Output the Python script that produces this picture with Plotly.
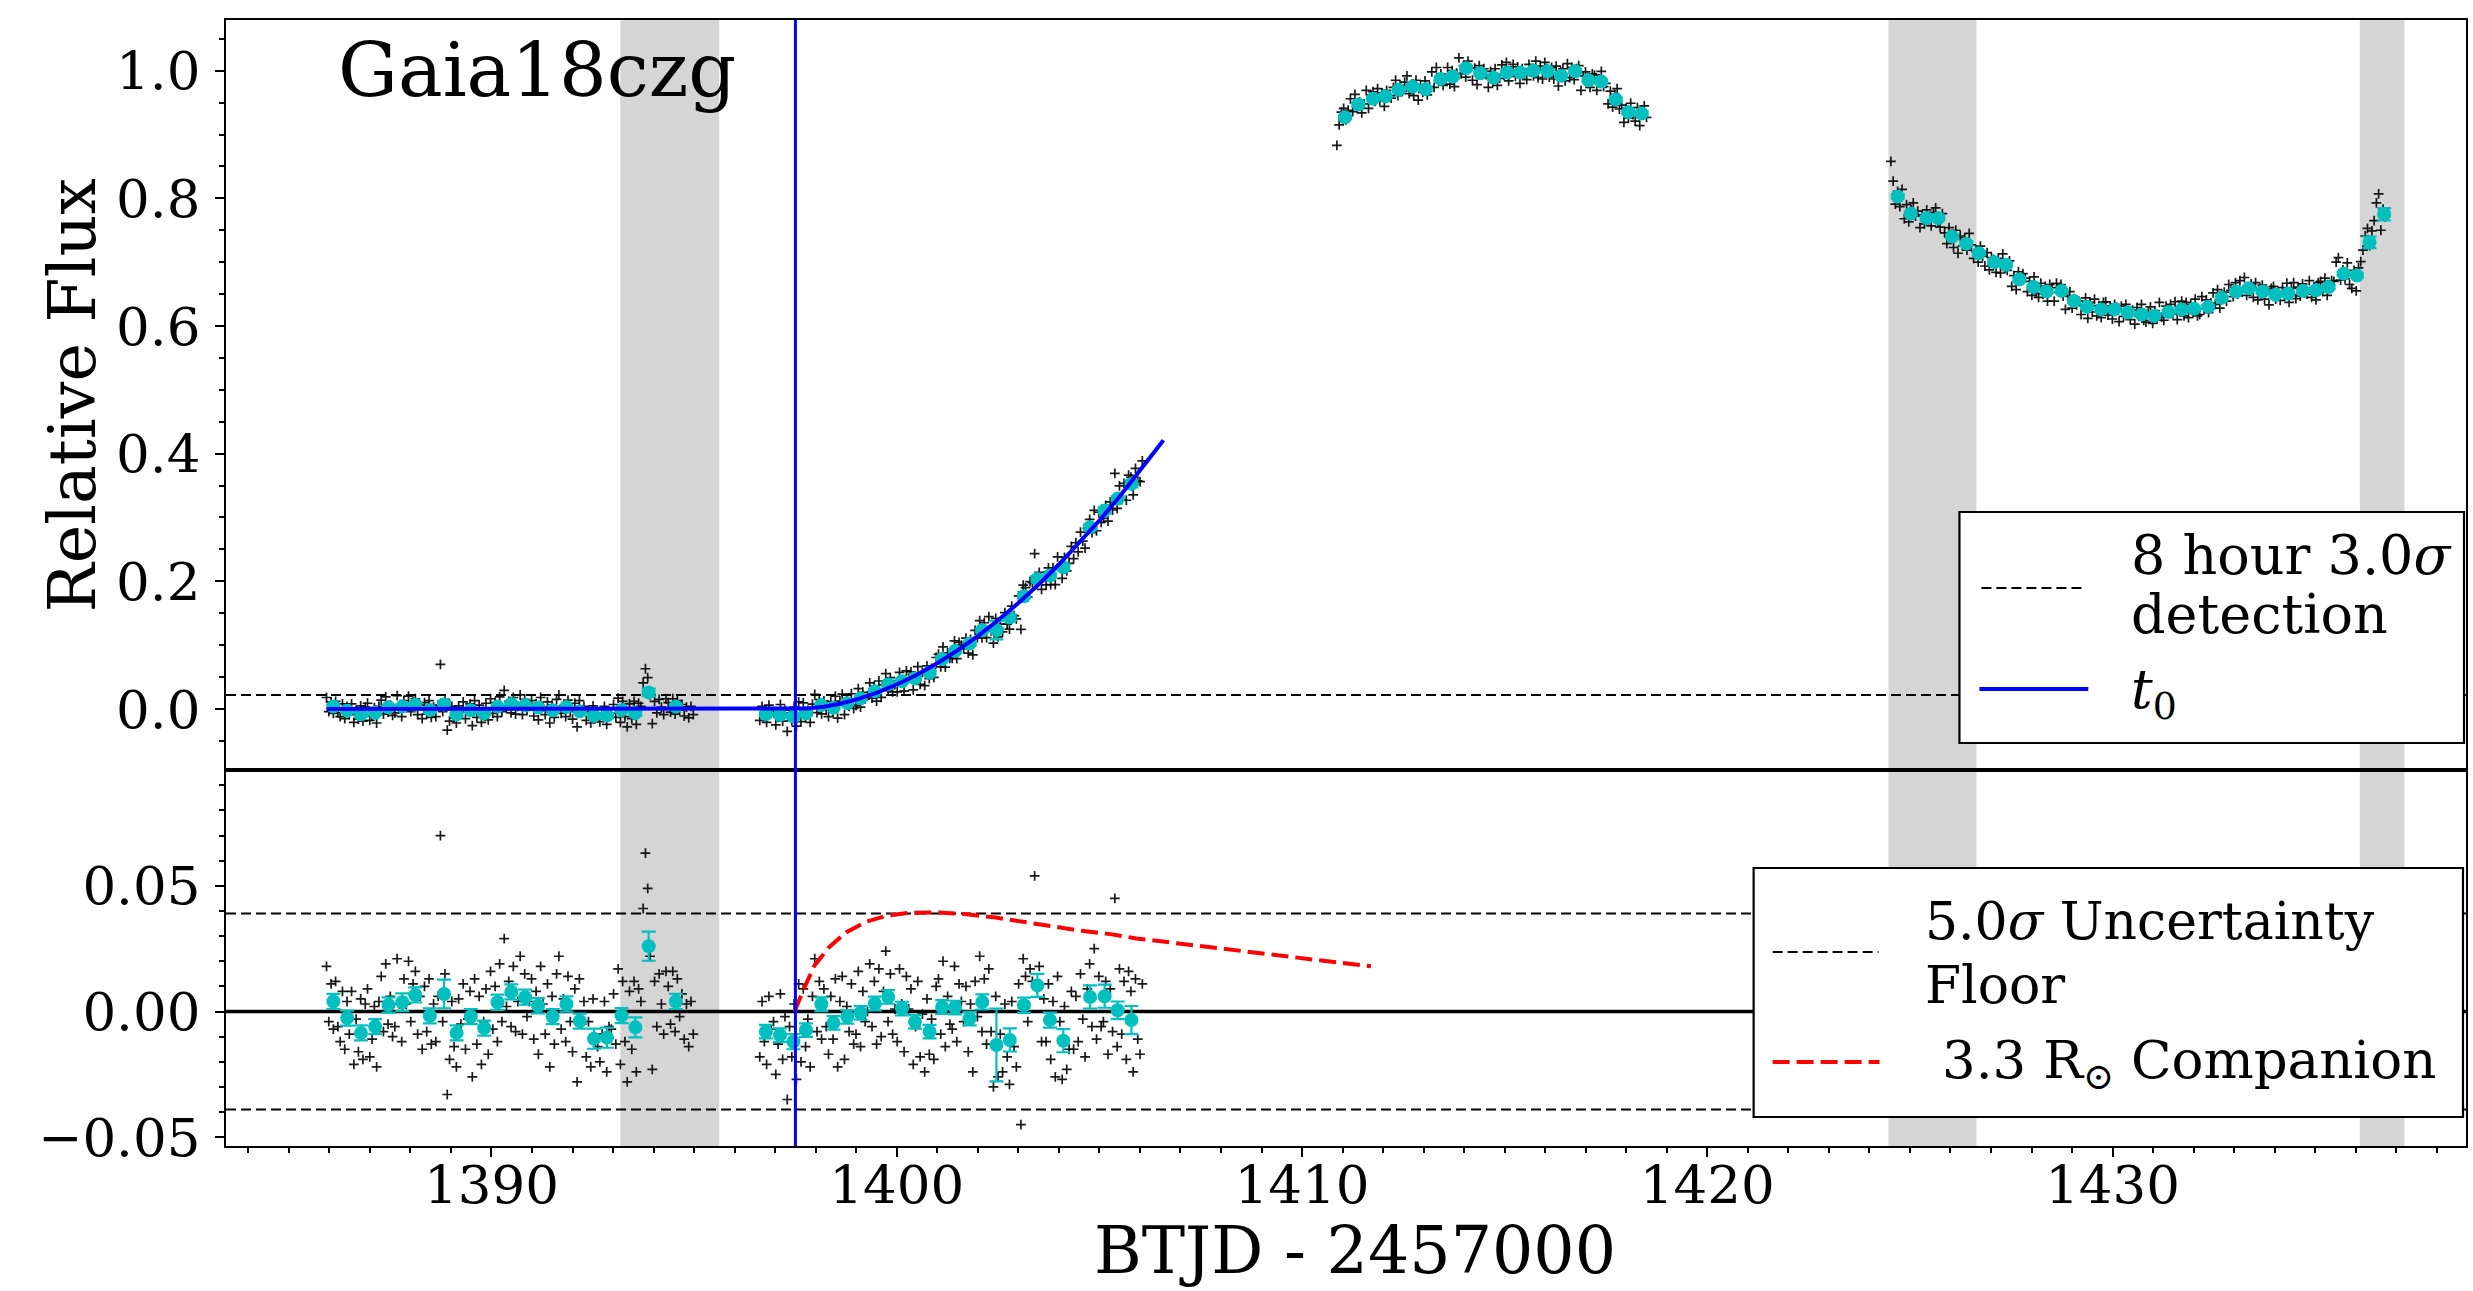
import numpy as np
import plotly.graph_objects as go

# ------------------------------------------------------------------ data
t0 = 1397.5
det_level = 0.022       # 8 hour 3.0 sigma detection
floor_level = 0.039     # 5.0 sigma uncertainty floor
x_range = [1383.45, 1438.72]
gaps = [(1393.18, 1395.62), (1424.47, 1426.64), (1436.10, 1437.20)]

# 8-hour bins, segment 1 (residuals; model is flat at 0 here)
seg1_bin_t = [1386.10, 1386.44, 1386.78, 1387.13, 1387.46, 1387.80, 1388.12, 1388.48, 1388.83,
              1389.14, 1389.49, 1389.82, 1390.15, 1390.49, 1390.83, 1391.15, 1391.51, 1391.85,
              1392.18, 1392.53, 1392.85, 1393.21, 1393.55, 1393.88, 1394.55]
seg1_bin_r = [0.0040, -0.0026, -0.0085, -0.0060, 0.0026, 0.0037, 0.0066, -0.0017, 0.0070,
              -0.0085, -0.0020, -0.0066, 0.0037, 0.0078, 0.0057, 0.0023, -0.0020, 0.0030,
              -0.0038, -0.0108, -0.0104, -0.0016, -0.0063, 0.0260, 0.0040]
seg1_bin_e = [0.0030, 0.0030, 0.0030, 0.0030, 0.0030, 0.0035, 0.0030, 0.0030, 0.0057,
              0.0030, 0.0030, 0.0030, 0.0030, 0.0030, 0.0030, 0.0030, 0.0030, 0.0030,
              0.0030, 0.0040, 0.0040, 0.0030, 0.0040, 0.0058, 0.0030]

# 8-hour bins, segment 2 (residuals from the rise model)
seg2_bin_t = [1396.77, 1397.12, 1397.45, 1397.76, 1398.14, 1398.44, 1398.78, 1399.11, 1399.46,
              1399.79, 1400.13, 1400.45, 1400.81, 1401.12, 1401.44, 1401.80, 1402.11, 1402.46,
              1402.79, 1403.14, 1403.47, 1403.78, 1404.11, 1404.77, 1405.13, 1405.45, 1405.79]
seg2_bin_r = [-0.0080, -0.0094, -0.0120, -0.0074, 0.0029, -0.0045, -0.0021, -0.0005, 0.0032,
              0.0058, 0.0012, -0.0041, -0.0080, 0.0018, 0.0016, -0.0028, 0.0038, -0.0133,
              -0.0113, 0.0025, 0.0104, -0.0034, -0.0116, 0.0058, 0.0061, 0.0005, -0.0034]
seg2_bin_e = [0.0027, 0.0027, 0.0030, 0.0027, 0.0027, 0.0027, 0.0027, 0.0027, 0.0027,
              0.0027, 0.0027, 0.0027, 0.0027, 0.0027, 0.0027, 0.0027, 0.0030, 0.0145,
              0.0046, 0.0030, 0.0046, 0.0030, 0.0046, 0.0046, 0.0046, 0.0035, 0.0056]

# 8-hour bins, segment 3 (relative flux)
seg3_bin_t = [1411.06, 1411.39, 1411.75, 1412.06, 1412.39, 1412.73, 1413.05, 1413.42, 1413.72,
              1414.05, 1414.40, 1414.73, 1415.06, 1415.39, 1415.71, 1416.06, 1416.39, 1416.74,
              1417.07, 1417.38, 1417.74, 1418.05, 1418.38]
seg3_bin_f = [0.927, 0.947, 0.956, 0.960, 0.970, 0.975, 0.971, 0.987, 0.991,
              1.004, 0.996, 0.989, 0.997, 0.997, 1.000, 0.999, 0.992, 0.999,
              0.985, 0.983, 0.955, 0.935, 0.933]
seg3_bin_e = [0.003, 0.003, 0.003, 0.003, 0.003, 0.003, 0.003, 0.003, 0.003,
              0.003, 0.003, 0.003, 0.003, 0.003, 0.003, 0.003, 0.003, 0.003,
              0.003, 0.003, 0.003, 0.003, 0.003]

# 8-hour bins, segment 4 (relative flux)
seg4_bin_t = [1424.70, 1425.02, 1425.41, 1425.70, 1426.04, 1426.39, 1426.70, 1427.08, 1427.37,
              1427.70, 1428.05, 1428.37, 1428.74, 1429.05, 1429.37, 1429.72, 1430.05, 1430.38,
              1430.72, 1431.03, 1431.38, 1431.71, 1432.01, 1432.36, 1432.69, 1433.05, 1433.36,
              1433.70, 1434.02, 1434.33, 1434.70, 1435.02, 1435.33, 1435.70, 1436.03, 1436.34,
              1436.70]
seg4_bin_f = [0.803, 0.776, 0.769, 0.769, 0.740, 0.729, 0.714, 0.700, 0.696,
              0.673, 0.661, 0.654, 0.655, 0.639, 0.630, 0.626, 0.626, 0.621,
              0.618, 0.616, 0.622, 0.626, 0.627, 0.630, 0.644, 0.654, 0.659,
              0.654, 0.649, 0.651, 0.655, 0.656, 0.661, 0.682, 0.679, 0.731,
              0.775]
seg4_bin_e = [0.003, 0.003, 0.003, 0.003, 0.003, 0.003, 0.003, 0.003, 0.003,
              0.003, 0.003, 0.003, 0.003, 0.003, 0.003, 0.003, 0.003, 0.003,
              0.003, 0.003, 0.003, 0.003, 0.003, 0.003, 0.003, 0.003, 0.003,
              0.003, 0.003, 0.003, 0.003, 0.003, 0.003, 0.003, 0.003, 0.009,
              0.0097]

# unbinned cadences: segment time spans and values (6 per 8-hour bin)
seg1_span = (1385.93, 1394.98)
seg1_resid = [
    0.018, -0.004, 0.011, -0.007, 0.012, -0.006,
    -0.012, 0.008, -0.015, 0.004, -0.009, 0.008,
    -0.021, -0.003, -0.016, 0.005, -0.019, 0.003,
    0.009, -0.018, -0.011, 0.002, -0.022, 0.004,
    0.014, -0.008, 0.019, -0.005, 0.006, -0.010,
    -0.006, 0.021, 0.003, -0.012, 0.013, 0.003,
    0.020, -0.004, 0.011, 0.016, -0.009, 0.006,
    -0.015, 0.010, -0.008, 0.013, -0.013, 0.003,
    -0.012, 0.006, 0.070, -0.004, 0.015, -0.033,
    -0.019, 0.004, -0.014, -0.022, 0.005, -0.005,
    0.011, -0.015, -0.003, 0.008, -0.026, 0.013,
    -0.013, 0.006, -0.021, -0.004, 0.009, -0.017,
    0.016, -0.007, 0.010, -0.012, 0.019, -0.004,
    0.029, 0.002, 0.012, -0.006, 0.018, -0.008,
    0.004, 0.022, -0.009, 0.015, -0.002, 0.004,
    0.013, -0.011, 0.008, -0.017, 0.018, 0.003,
    -0.009, 0.011, -0.022, 0.006, -0.013, 0.015,
    0.022, -0.007, 0.005, -0.012, 0.014, -0.004,
    -0.016, 0.009, -0.028, 0.013, -0.005, 0.004,
    -0.018, -0.004, -0.022, 0.005, -0.012, -0.014,
    -0.020, -0.009, 0.004, -0.024, -0.006, -0.007,
    0.007, -0.013, 0.017, -0.021, 0.012, -0.012,
    -0.028, 0.008, -0.015, 0.012, -0.024, 0.009,
    0.004, 0.041, 0.063, 0.049, 0.022, -0.023,
    0.012, -0.006, 0.015, 0.003, -0.009, 0.016,
    0.010, -0.005, 0.016, -0.008, 0.013, -0.002,
    0.007, -0.011, 0.003, -0.014, 0.004, -0.009,
]
seg2_span = (1396.62, 1406.06)
seg2_resid = [
    -0.018, 0.004, -0.012, -0.021, 0.006, -0.007,
    -0.004, -0.025, -0.013, 0.007, -0.019, -0.002,
    -0.035, -0.006, -0.018, 0.003, -0.027, 0.011,
    -0.020, 0.009, -0.014, -0.003, -0.022, 0.006,
    0.021, -0.008, 0.012, -0.011, 0.009, -0.006,
    -0.017, 0.006, -0.011, 0.013, -0.022, 0.004,
    0.014, -0.019, 0.002, -0.008, 0.011, -0.013,
    -0.009, 0.016, -0.014, 0.008, -0.004, 0.000,
    0.019, -0.006, 0.012, -0.013, 0.017, -0.010,
    0.008, 0.024, -0.004, 0.015, -0.009, 0.001,
    -0.012, 0.017, 0.003, -0.016, 0.014, 0.001,
    0.009, -0.021, -0.006, 0.012, -0.018, -0.001,
    -0.024, 0.005, -0.017, -0.003, -0.019, 0.010,
    0.013, -0.009, 0.020, -0.014, 0.006, -0.005,
    -0.007, 0.018, -0.012, 0.011, 0.004, -0.004,
    0.010, -0.016, 0.003, -0.024, 0.012, -0.002,
    0.022, -0.008, 0.013, -0.013, 0.017, -0.008,
    -0.030, 0.006, -0.026, -0.009, -0.024, 0.003,
    -0.018, -0.029, 0.004, -0.014, -0.022, 0.011,
    -0.045, 0.021, 0.014, -0.004, 0.017, 0.012,
    0.054, 0.009, 0.018, -0.012, 0.005, -0.012,
    0.011, -0.019, 0.004, -0.026, 0.014, -0.004,
    -0.027, 0.002, -0.023, -0.015, 0.008, -0.015,
    0.006, -0.012, 0.015, -0.003, -0.018, 0.009,
    0.019, -0.006, 0.025, -0.011, 0.014, -0.006,
    -0.004, 0.012, -0.017, 0.009, -0.008, 0.045,
    -0.014, 0.017, -0.009, 0.012, -0.019, 0.016,
    0.008, -0.024, 0.013, -0.011, -0.017, 0.011,
]
seg3_span = (1410.86, 1418.50)
seg3_offs = [
    -0.044, -0.012, 0.008, 0.014, -0.004, 0.011,
    0.009, -0.011, 0.016, -0.006, 0.004, -0.013,
    -0.008, 0.013, -0.015, 0.006, 0.011, -0.004,
    0.012, -0.007, 0.005, -0.016, 0.009, 0.001,
    -0.013, 0.004, 0.015, -0.009, 0.007, -0.002,
    0.007, 0.017, -0.011, 0.003, -0.014, 0.010,
    -0.017, 0.006, -0.005, 0.013, -0.009, 0.004,
    0.011, -0.013, 0.018, -0.002, 0.008, -0.010,
    -0.006, 0.014, -0.012, 0.009, -0.016, 0.005,
    0.016, -0.009, 0.004, -0.014, 0.011, 0.000,
    -0.011, 0.008, -0.018, 0.012, -0.003, 0.007,
    0.005, -0.015, 0.010, -0.007, 0.014, -0.012,
    -0.009, 0.012, -0.004, 0.016, -0.013, 0.003,
    0.013, -0.006, 0.009, -0.017, 0.006, -0.002,
    -0.014, 0.010, 0.002, -0.008, 0.015, -0.011,
    0.008, -0.012, 0.014, 0.004, -0.009, 0.006,
    -0.005, 0.015, -0.016, 0.007, 0.011, -0.008,
    0.012, -0.010, 0.006, -0.013, 0.004, 0.009,
    -0.016, 0.007, 0.013, -0.005, -0.011, 0.010,
    0.010, -0.014, 0.004, 0.016, -0.008, -0.003,
    -0.007, 0.013, -0.012, 0.008, 0.017, -0.015,
    0.011, -0.016, 0.006, -0.009, 0.014, -0.004,
    -0.012, 0.009, -0.019, 0.004, 0.012, -0.006,
]
seg4_span = (1424.53, 1436.73)
seg4_offs = [
    0.055, 0.024, -0.012, 0.008, -0.016, 0.011,
    -0.008, 0.014, -0.013, 0.006, 0.017, -0.004,
    0.011, -0.015, 0.005, -0.009, 0.013, 0.002,
    -0.012, 0.009, 0.016, -0.006, -0.014, 0.007,
    0.006, -0.011, 0.014, 0.002, -0.017, 0.010,
    -0.015, 0.012, -0.004, 0.009, -0.010, 0.016,
    0.013, -0.008, 0.003, -0.014, 0.011, -0.005,
    -0.006, 0.015, -0.012, 0.007, 0.004, -0.016,
    0.010, -0.013, 0.017, -0.005, -0.009, 0.006,
    -0.011, 0.006, -0.016, 0.012, 0.002, 0.009,
    0.014, -0.007, 0.009, -0.013, 0.016, -0.010,
    -0.009, 0.013, -0.004, 0.008, -0.015, 0.011,
    0.005, -0.016, 0.012, -0.002, 0.010, -0.008,
    -0.013, 0.008, 0.015, -0.011, 0.004, -0.006,
    0.009, -0.012, 0.002, 0.014, -0.018, 0.007,
    -0.004, 0.016, -0.010, 0.006, -0.013, 0.011,
    0.012, -0.009, 0.005, -0.015, 0.008, 0.003,
    -0.014, 0.010, -0.006, 0.013, 0.001, -0.011,
    0.007, -0.015, 0.011, -0.003, 0.016, -0.009,
    -0.010, 0.005, 0.014, -0.012, 0.008, -0.004,
    0.015, -0.008, -0.013, 0.009, -0.002, 0.012,
    -0.007, 0.012, -0.016, 0.004, 0.013, -0.010,
    0.010, -0.014, 0.007, -0.005, 0.015, -0.011,
    -0.012, 0.016, -0.003, 0.011, -0.009, 0.006,
    0.008, -0.010, 0.013, -0.016, 0.004, 0.009,
    -0.015, 0.011, 0.002, -0.008, 0.014, -0.004,
    0.012, -0.006, 0.017, -0.011, -0.003, 0.007,
    -0.009, 0.014, -0.013, 0.005, 0.010, -0.012,
    0.006, -0.016, 0.010, 0.013, -0.007, 0.002,
    -0.011, 0.009, -0.004, 0.016, -0.014, 0.008,
    0.013, -0.012, 0.006, -0.008, 0.011, -0.003,
    -0.006, 0.015, -0.011, 0.004, -0.015, 0.012,
    0.009, -0.007, 0.014, -0.013, 0.003, 0.010,
    -0.012, 0.018, 0.025, -0.010, 0.006, -0.008,
    0.020, -0.014, -0.020, 0.008, -0.024, 0.012,
    -0.030, -0.012, 0.010, 0.022, -0.005, 0.018,
    -0.010, 0.018, 0.032, -0.025, 0.008, -0.004,
]

# rise model (blue)
fit_t = [1385.93, 1397.50, 1397.80, 1398.20, 1398.60, 1399.00, 1399.50, 1400.00, 1400.50,
         1401.00, 1401.50, 1402.00, 1402.50, 1403.00, 1403.50, 1404.00, 1404.50, 1405.00,
         1405.50, 1406.00, 1406.58]
fit_f = [0.0, 0.0, 0.0007, 0.0036, 0.0083, 0.0148, 0.0253, 0.0383, 0.0537,
         0.0716, 0.0917, 0.1142, 0.1389, 0.1659, 0.1949, 0.2263, 0.2597, 0.2952,
         0.3329, 0.3728, 0.4210]

# 3.3 Rsun companion interaction signal (red dashed)
comp_t = [1397.48, 1397.69, 1397.97, 1398.33, 1398.75, 1399.25, 1399.75, 1400.31, 1401.02,
          1401.73, 1402.44, 1403.14, 1403.85, 1404.56, 1405.27, 1405.91, 1407.00, 1408.00,
          1409.00, 1410.00, 1411.00, 1411.70]
comp_f = [0.0, 0.0084, 0.0183, 0.0256, 0.0315, 0.0358, 0.0381, 0.0393, 0.0394,
          0.0387, 0.0374, 0.0357, 0.0341, 0.0321, 0.0308, 0.0291, 0.0270, 0.0250,
          0.0230, 0.0212, 0.0193, 0.0180]

# ------------------------------------------------------------------ derived
seg1_t = np.linspace(seg1_span[0], seg1_span[1], len(seg1_resid))
seg2_t = np.linspace(seg2_span[0], seg2_span[1], len(seg2_resid))
seg3_t = np.linspace(seg3_span[0], seg3_span[1], len(seg3_offs))
seg4_t = np.linspace(seg4_span[0], seg4_span[1], len(seg4_offs))
seg3_f = np.repeat(seg3_bin_f, len(seg3_offs) // len(seg3_bin_f)) + np.array(seg3_offs)
seg4_f = np.repeat(seg4_bin_f, len(seg4_offs) // len(seg4_bin_f)) + np.array(seg4_offs)

res_t = np.concatenate([seg1_t, seg2_t])
res_v = np.concatenate([seg1_resid, seg2_resid])
top_f_fit = np.interp(res_t, fit_t, fit_f) + res_v

bin_rt = np.array(seg1_bin_t + seg2_bin_t)
bin_rv = np.array(seg1_bin_r + seg2_bin_r)
bin_re = np.array(seg1_bin_e + seg2_bin_e)
bin_top_fit = np.interp(bin_rt, fit_t, fit_f) + bin_rv

all_t = np.concatenate([res_t, seg3_t, seg4_t])
all_f = np.concatenate([top_f_fit, seg3_f, seg4_f])
bin_all_t = np.concatenate([bin_rt, seg3_bin_t, seg4_bin_t])
bin_all_f = np.concatenate([bin_top_fit, seg3_bin_f, seg4_bin_f])
bin_all_e = np.concatenate([bin_re, seg3_bin_e, seg4_bin_e])

# ------------------------------------------------------------------ figure
W, H = 2473, 1291
L, R, T, B = 226, 5, 20, 145
PW, PH = W - L - R, H - T - B
split = 376 / PH
FONT = "DejaVu Serif"
CYAN = "#00bfbf"

def px(x):
    return (x - L) / PW

def py(y):
    return (H - B - y) / PH

black_marker = dict(symbol="cross-thin", size=7, color="rgba(0,0,0,0.9)",
                    line=dict(color="rgba(0,0,0,0.9)", width=1.7))
cyan_marker = dict(symbol="circle", size=14, color=CYAN, line=dict(width=0))
err_style = dict(type="data", color=CYAN, thickness=2.2, width=7)

fig = go.Figure()

# top panel
fig.add_trace(go.Scatter(x=x_range, y=[det_level, det_level], mode="lines",
                         line=dict(color="black", width=2, dash="10px,5px"),
                         xaxis="x", yaxis="y", showlegend=False))
fig.add_trace(go.Scatter(x=all_t, y=all_f, mode="markers", marker=black_marker,
                         xaxis="x", yaxis="y", showlegend=False))
fig.add_trace(go.Scatter(x=bin_all_t, y=bin_all_f, mode="markers", marker=cyan_marker,
                         error_y=dict(array=bin_all_e, **err_style),
                         xaxis="x", yaxis="y", showlegend=False))
fig.add_trace(go.Scatter(x=fit_t, y=fit_f, mode="lines", line=dict(color="#0000ff", width=4),
                         xaxis="x", yaxis="y", showlegend=False))

# bottom panel
for lev in (floor_level, -floor_level):
    fig.add_trace(go.Scatter(x=x_range, y=[lev, lev], mode="lines",
                             line=dict(color="black", width=2, dash="10px,5px"),
                             xaxis="x2", yaxis="y2", showlegend=False))
fig.add_trace(go.Scatter(x=x_range, y=[0, 0], mode="lines",
                         line=dict(color="black", width=3.5),
                         xaxis="x2", yaxis="y2", showlegend=False))
fig.add_trace(go.Scatter(x=res_t, y=res_v, mode="markers", marker=black_marker,
                         xaxis="x2", yaxis="y2", showlegend=False))
fig.add_trace(go.Scatter(x=bin_rt, y=bin_rv, mode="markers", marker=cyan_marker,
                         error_y=dict(array=bin_re, **err_style),
                         xaxis="x2", yaxis="y2", showlegend=False))
fig.add_trace(go.Scatter(x=comp_t, y=comp_f, mode="lines",
                         line=dict(color="#ff0000", width=4, dash="17px,7px"),
                         xaxis="x2", yaxis="y2", showlegend=False))

shapes = []
for g0, g1 in gaps:
    shapes.append(dict(type="rect", xref="x2", yref="paper", x0=g0, x1=g1, y0=0, y1=1,
                       fillcolor="#d5d5d5", line=dict(width=0), layer="below"))
shapes.append(dict(type="line", xref="x2", yref="paper", x0=t0, x1=t0, y0=0, y1=1,
                   line=dict(color="#0000ff", width=3), layer="above"))

# legend boxes
def box(x0, x1, y0, y1):
    return dict(type="rect", xref="paper", yref="paper", x0=px(x0), x1=px(x1),
                y0=py(y1), y1=py(y0), fillcolor="white",
                line=dict(color="black", width=2.2), layer="above")

def seg(x0, x1, y, color, width, dash):
    return dict(type="line", xref="paper", yref="paper", x0=px(x0), x1=px(x1),
                y0=py(y), y1=py(y), line=dict(color=color, width=width, dash=dash),
                layer="above")

shapes += [box(1961, 2466, 512, 743),
           seg(1983, 2088, 588, "black", 2, "10px,5px"),
           seg(1981, 2090, 689, "#0000ff", 4, "solid"),
           box(1755, 2465, 868, 1117),
           seg(1774, 1880, 952, "black", 2, "10px,5px"),
           seg(1774, 1881, 1062, "#ff0000", 4, "17px,7px")]

def txt(x, y, s, size=52, **kw):
    d = dict(xref="paper", yref="paper", x=px(x), y=py(y), text=s, showarrow=False,
             xanchor="left", yanchor="middle", font=dict(family=FONT, size=size, color="black"))
    d.update(kw)
    return d

annotations = [
    txt(336, 70, "Gaia18czg", size=75),
    txt(2131, 555, "8 hour 3.0<i>σ</i>", size=54),
    txt(2131, 614, "detection", size=54),
    txt(2131, 693, "<i>t</i><sub>0</sub>", size=54),
    txt(1925, 921, "5.0<i>σ</i> Uncertainty"),
    txt(1925, 985, "Floor"),
    txt(1942, 1063, "3.3 R<sub>⊙</sub> Companion", size=53),
    txt(1356, 1250, "BTJD - 2457000", size=65, xanchor="center"),
    txt(72, 395, "Relative Flux", size=65, xanchor="center", textangle=-90),
]

axis_common = dict(showgrid=False, zeroline=False, showline=True, linecolor="black",
                   linewidth=2, mirror=True)
tickfont = dict(family=FONT, size=53, color="black")

fig.update_layout(
    width=W, height=H, autosize=False,
    margin=dict(l=L, r=R, t=T, b=B, pad=0),
    paper_bgcolor="white", plot_bgcolor="white",
    showlegend=False,
    shapes=shapes, annotations=annotations,
    xaxis=dict(domain=[0, 1], anchor="y", range=x_range, matches="x2",
               showticklabels=False, ticks="", **axis_common),
    xaxis2=dict(domain=[0, 1], anchor="y2", range=x_range, dtick=10, tick0=1390,
                ticks="outside", ticklen=9, tickwidth=2, tickcolor="black",
                tickfont=tickfont, ticklabelstandoff=-18,
                minor=dict(dtick=1, tick0=1390, ticks="outside", ticklen=5,
                           tickwidth=1.6, tickcolor="black", showgrid=False),
                **axis_common),
    yaxis=dict(domain=[split, 1], anchor="x", range=[-0.0956, 1.0794], dtick=0.2, tick0=0,
               tickformat=".1f", ticks="outside", ticklen=9, tickwidth=2, tickcolor="black",
               tickfont=tickfont, ticklabelstandoff=4,
               minor=dict(dtick=0.05, tick0=0, ticks="outside", ticklen=5,
                          tickwidth=1.6, tickcolor="black", showgrid=False),
               **axis_common),
    yaxis2=dict(domain=[0, split], anchor="x2", range=[-0.0535, 0.0961], dtick=0.05, tick0=0,
                tickformat=".2f", ticks="outside", ticklen=9, tickwidth=2, tickcolor="black",
                tickfont=tickfont, ticklabelstandoff=4,
                minor=dict(dtick=0.01, tick0=0, ticks="outside", ticklen=5,
                           tickwidth=1.6, tickcolor="black", showgrid=False),
                **axis_common),
)

fig.write_html("out.html")
